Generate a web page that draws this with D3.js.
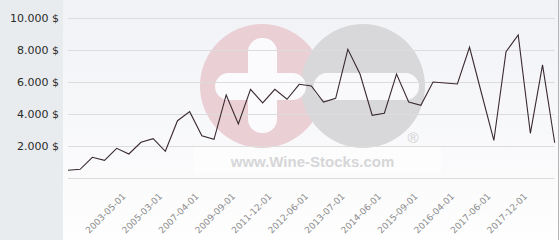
<!DOCTYPE html>
<html><head><meta charset="utf-8">
<script src="https://cdn.jsdelivr.net/npm/d3@7/dist/d3.min.js"></script>
<style>
html,body{margin:0;padding:0;background:#fff;}
svg{display:block;}
</style></head>
<body><svg id="c" width="560" height="240"></svg>
<script>
// ---- data ----
const values = [480, 545, 1295, 1105, 1855, 1500, 2230, 2455, 1670, 3580, 4145, 2645, 2420, 5190, 3375, 5545, 4690, 5545, 4920, 5855, 5750, 4750, 4980, 8045, 6500, 3920, 4045, 6500, 4750, 4545, 6000, 5940, 5875, 8170, 5250, 2345, 7895, 8940, 2795, 7065, 2205];
const tickLabels = ["2003-05-01","2005-03-01","2007-04-01","2009-09-01","2011-12-01","2012-06-01","2013-07-01","2014-06-01","2015-09-01","2016-04-01","2017-06-01","2017-12-01"];
const tickIndex = [5, 8, 11, 14, 17, 20, 23, 26, 29, 32, 35, 38];
const yTicks = [0, 2000, 4000, 6000, 8000, 10000];
const yMax = 10000;

(function () {
// ---- layout ----
const W = 560, H = 240;
const panelW = 63, left = 68, right = 554.7, topY = 18, bottomY = 178;
const svg = d3.select("#c");

const defs = svg.append("defs");
const grad = defs.append("linearGradient").attr("id","bg").attr("x1",0).attr("y1",0).attr("x2",0).attr("y2",1);
grad.append("stop").attr("offset","0%").attr("stop-color","#f1f2f6");
grad.append("stop").attr("offset","100%").attr("stop-color","#fefefe");

svg.append("rect").attr("x",0).attr("y",0).attr("width",panelW).attr("height",H).attr("fill","#e8ecee");
svg.append("rect").attr("x",panelW).attr("y",0).attr("width",W-panelW).attr("height",H).attr("fill","url(#bg)");
svg.append("line").attr("x1",558.5).attr("x2",558.5).attr("y1",0).attr("y2",H).attr("stroke","#b4b4b4").attr("stroke-width",1);

// ---- watermark ----
const wm = svg.append("g");
wm.append("rect").attr("x",193).attr("y",147).attr("width",248).attr("height",26).attr("fill","#ffffff").attr("opacity",0.55);
wm.append("circle").attr("cx",262).attr("cy",86).attr("r",62).attr("fill","#eacfd5");
wm.append("circle").attr("cx",363).attr("cy",86).attr("r",62).attr("fill","#d8d8da");
wm.append("rect").attr("x",248).attr("y",38).attr("width",29).attr("height",95).attr("rx",14).attr("fill","#fbfbfd");
wm.append("rect").attr("x",215).attr("y",73).attr("width",91).attr("height",27).attr("rx",13.5).attr("fill","#fbfbfd");
wm.append("rect").attr("x",313.5).attr("y",73).attr("width",105.5).attr("height",27).attr("rx",13.5).attr("fill","#f9f9fb");
wm.append("text").attr("x",413).attr("y",143).attr("text-anchor","middle")
  .attr("font-family","Liberation Sans, Arial, sans-serif").attr("font-size",15).attr("fill","#d0d0d2").text("®");
wm.append("text").attr("x",312.5).attr("y",166.5).attr("text-anchor","middle")
  .attr("font-family","Liberation Sans, Arial, sans-serif").attr("font-weight","bold").attr("font-size",15)
  .attr("fill","#d6d6d8").text("www.Wine-Stocks.com");

// ---- scales ----
const x = d3.scalePoint().domain(d3.range(values.length)).range([left, right]).padding(0);
const y = d3.scaleLinear().domain([0, yMax]).range([bottomY, topY]);

// ---- y axis + grid ----
const fmt = v => d3.format(",")(v).replace(/,/g, ".") + " $";
const yAxis = d3.axisLeft(y).tickValues(yTicks).tickSize(-(right - left)).tickPadding(9)
  .tickFormat(d => d === 0 ? "" : fmt(d));
const gy = svg.append("g").attr("transform", `translate(${left},0)`).call(yAxis);
gy.select(".domain").remove();
gy.selectAll(".tick line").attr("stroke", "#dcdcdc").attr("stroke-width", 1);
gy.selectAll(".tick text").attr("font-family", "DejaVu Sans, sans-serif").attr("font-size", 11).attr("fill", "#2a2a2a");

// ---- x axis ----
const xAxis = d3.axisBottom(x).tickValues(tickIndex).tickSize(0).tickFormat((d, i) => tickLabels[i]);
const gx = svg.append("g").attr("transform", `translate(0,${bottomY})`).call(xAxis);
gx.select(".domain").remove();
gx.selectAll(".tick text")
  .attr("font-family", "DejaVu Sans, sans-serif").attr("font-size", 9).attr("fill", "#8c8c8c")
  .attr("text-anchor", "end").attr("dy", null).attr("y", 0)
  .attr("transform", "translate(-3,19) rotate(-45)");

// ---- line ----
const line = d3.line().x((d, i) => x(i)).y(d => y(d));
svg.append("path").datum(values).attr("d", line).attr("fill", "none")
  .attr("stroke", "#3a2a30").attr("stroke-width", 1.1).attr("stroke-linejoin", "miter");
})();
</script></body></html>
